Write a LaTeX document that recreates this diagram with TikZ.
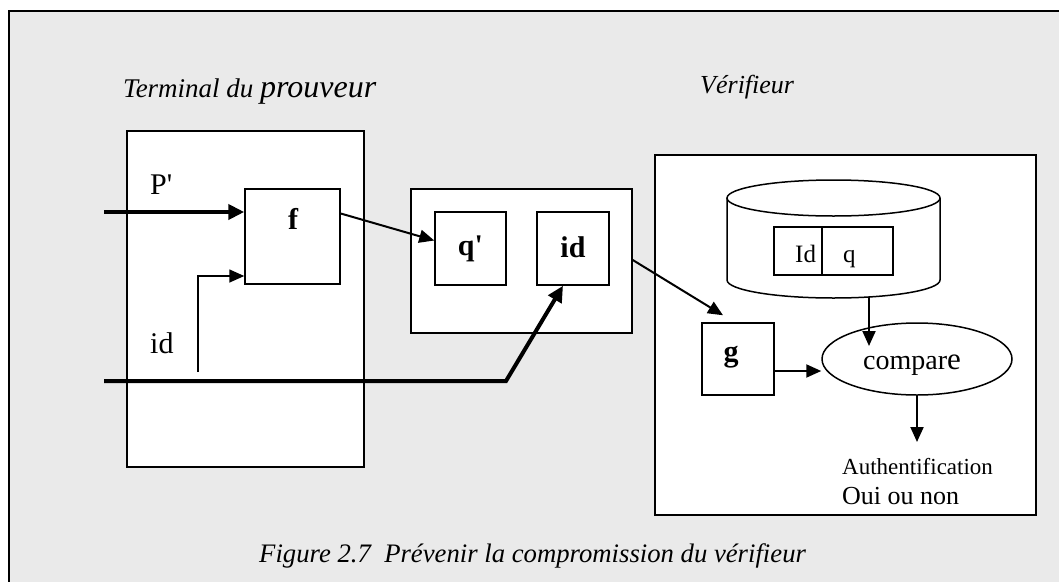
\documentclass[tikz,border=0pt]{standalone}
\usepackage{fontspec}
\setmainfont{Liberation Serif}
\usetikzlibrary{arrows.meta,calc,shapes.geometric}
\definecolor{paneg}{HTML}{EAEAEA}

\begin{document}
\begin{tikzpicture}[x=1pt,y=-1pt,
  box/.style={draw, line width=1.5pt, fill=white, inner sep=0pt},
  thinarrow/.style={line width=1.6pt, -{Triangle[length=15pt,width=13pt]}},
  thickarrow/.style={line width=4pt, -{Triangle[length=16pt,width=15pt]}},
  txt/.style={inner sep=0pt, anchor=base west},
  boldtxt/.style={inner sep=0pt, font=\bfseries\fontsize{30}{34}\selectfont},
  ittxt/.style={inner sep=0pt, anchor=base west, font=\itshape\fontsize{26}{30}\selectfont}
]
\useasboundingbox (0,0) rectangle (1059,581);
\fill[white] (0,0) rectangle (1059,581);
\draw[fill=paneg, line width=2pt] (9,11) rectangle (1080,600);

% headings
\node[ittxt, font=\itshape\fontsize{27}{30}\selectfont] (hterm) at (123,97) {Terminal du \fontsize{32}{34}\selectfont prouveur};
\node[ittxt] (hver) at (700,93) {Vérifieur};

% prover terminal
\node[box, minimum width=237pt, minimum height=336pt] (term) at (245.5,299) {};
\node[box, minimum width=95pt, minimum height=95pt] (f) at (292.5,236.5) {};
\node[boldtxt] (ftxt) at (293,219) {f};
\node[txt, font=\fontsize{30}{34}\selectfont] (plab) at (150,194) {P\textquotesingle};
\node[txt, font=\fontsize{30}{34}\selectfont] (idlab) at (150,353) {id};

% message box
\node[box, minimum width=221pt, minimum height=144pt] (msg) at (521.5,261) {};
\node[box, minimum width=71pt, minimum height=73pt, boldtxt] (qp) at (470.5,248.5) {q\textquotesingle};
\node[box, minimum width=72pt, minimum height=73pt, boldtxt] (idb) at (573,248.5) {\raisebox{3pt}{id}};

% verifier
\node[box, minimum width=381pt, minimum height=360pt] (ver) at (845.5,335) {};
% database cylinder
\filldraw[fill=white, line width=1.5pt] (727,198) -- (727,280)
  arc[start angle=180, end angle=0, x radius=106.5, y radius=18] -- (940,198);
\filldraw[fill=white, line width=1.5pt] (833.5,198) ellipse[x radius=106.5, y radius=18];
\coordinate (dbbot) at (869,297);
\node[box, minimum width=48pt, minimum height=48pt] (cid) at (798,251) {};
\node[box, minimum width=71pt, minimum height=48pt] (cq) at (857.5,251) {};
\node[txt, font=\fontsize{25}{28}\selectfont] (tid) at (795,262) {Id};
\node[txt, font=\fontsize{25}{28}\selectfont] (tq) at (843,262) {q};

\node[box, minimum width=72pt, minimum height=72pt] (g) at (738,359) {};
\node[boldtxt] (gtxt) at (731,357) {g};
\node[draw, line width=1.5pt, fill=white, ellipse, minimum width=190pt, minimum height=72pt, inner sep=0pt] (cmp) at (917,359) {};
\node[txt, font=\fontsize{28}{32}\selectfont] (cmptxt) at (863,369) {compar\fontsize{31}{32}\selectfont e};
\node[txt, align=left, anchor=north west, font=\fontsize{23}{30}\selectfont] (res) at (842,458)
  {Authentification\\\fontsize{26}{30}\selectfont Oui ou non};

% caption
\node[txt, font=\itshape\fontsize{26.7}{30}\selectfont] (cap) at (259,562)
  {Figure 2.7\ \ Prévenir la compromission du vérifieur};

% connectors
\coordinate (pin) at (104,212);
\draw[thickarrow] (pin) -- (pin -| f.west);
\coordinate (idin) at (198,372);
\draw[thinarrow] (idin) -- (198,276) -- (198,276 -| f.west);
\draw[thinarrow, line width=2pt] ([yshift=23pt]f.east) -- ([yshift=8pt]qp.west);
\coordinate (idfeed) at (104,381);
\draw[thickarrow, line join=miter] (idfeed) -- (506,381) -- ([xshift=-10pt]idb.south);
\draw[thinarrow, line width=2pt] ([yshift=1pt]msg.east) -- ([xshift=-15pt,yshift=7pt]g.north);
\draw[thinarrow, line width=2pt] ([yshift=-12pt]g.east) -- ([yshift=-12pt]g.east -| cmp.west);
\draw[thinarrow, line width=2pt] (dbbot) -- (869,346);
\draw[thinarrow, line width=2pt] (cmp.south) -- (917,442);
\end{tikzpicture}
\end{document}
